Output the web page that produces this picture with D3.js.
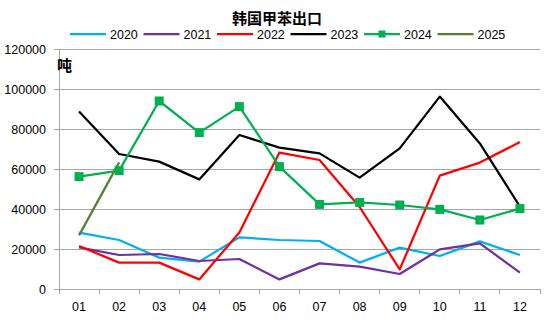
<!DOCTYPE html>
<html>
<head>
<meta charset="utf-8">
<script src="https://cdn.jsdelivr.net/npm/d3@7/dist/d3.min.js"></script>
<style>
  html, body { margin: 0; padding: 0; background: #fff; }
  svg { display: block; }
</style>
</head>
<body>
<svg id="chart" width="550" height="322"></svg>
<script>
// Months on the category axis
const months = ["01","02","03","04","05","06","07","08","09","10","11","12"];

// Monthly export volumes (tonnes) per year
const y2020 = [28200, 24500, 15700, 13700, 25800, 24500, 24000, 13200, 20700, 16500, 23800, 17000];
const y2021 = [20800, 17000, 17500, 14000, 15000, 4800, 12800, 11200, 7500, 19800, 22800, 8200];
const y2022 = [21500, 13200, 13200, 4800, 28300, 68200, 64500, 41000, 9800, 56700, 63200, 73500];
const y2023 = [88800, 67500, 63700, 54800, 77000, 70700, 67800, 55700, 70300, 96200, 72800, 41200];
const y2024 = [56200, 59200, 94000, 78200, 91200, 61200, 42300, 43300, 42000, 39800, 34500, 40200];
const y2025 = [26800, 63300];

const yTicks = [0, 20000, 40000, 60000, 80000, 100000, 120000];

const seriesNames = ["2020", "2021", "2022", "2023", "2024", "2025"];
const seriesValues = [y2020, y2021, y2022, y2023, y2024, y2025];
const seriesColors = ["#00b0f0", "#7030a0", "#ff0000", "#000000", "#00b050", "#548235"];

const svg = d3.select("#chart");
const margin = { left: 59, right: 10, top: 49, bottom: 33 };
const W = 550, H = 322;

const x = d3.scaleBand().domain(months).range([margin.left, W - margin.right]);
const y = d3.scaleLinear().domain([0, 120000]).range([H - margin.bottom, margin.top]);

const font = "'Liberation Sans', Arial, sans-serif";

// Horizontal gridlines
svg.append("g")
  .selectAll("line")
  .data(yTicks.filter(d => d > 0))
  .join("line")
  .attr("x1", margin.left).attr("x2", W - margin.right)
  .attr("y1", d => y(d)).attr("y2", d => y(d))
  .attr("stroke", "#a6a6a6").attr("stroke-width", 1)
  .attr("shape-rendering", "crispEdges");

// Y axis
const yAxis = svg.append("g")
  .attr("transform", `translate(${margin.left},0)`)
  .call(d3.axisLeft(y).tickValues(yTicks).tickSize(5).tickPadding(8).tickFormat(d3.format("d")));
yAxis.selectAll("line, path").attr("stroke", "#a6a6a6").attr("shape-rendering", "crispEdges");
yAxis.selectAll("text").attr("font-family", font).attr("font-size", 12.5).attr("fill", "#000");

// X axis with ticks between categories
const xAxisG = svg.append("g")
  .attr("transform", `translate(0,${y(0)})`);
xAxisG.append("line")
  .attr("x1", margin.left).attr("x2", W - margin.right)
  .attr("y1", 0).attr("y2", 0)
  .attr("stroke", "#a6a6a6").attr("shape-rendering", "crispEdges");
const boundaries = months.map(m => x(m)).concat([x(months[months.length - 1]) + x.bandwidth()]);
xAxisG.selectAll("line.tick")
  .data(boundaries)
  .join("line")
  .attr("class", "tick")
  .attr("x1", d => d).attr("x2", d => d)
  .attr("y1", 0).attr("y2", 5)
  .attr("stroke", "#a6a6a6").attr("shape-rendering", "crispEdges");
xAxisG.selectAll("text")
  .data(months)
  .join("text")
  .attr("x", d => x(d) + x.bandwidth() / 2)
  .attr("y", 22)
  .attr("text-anchor", "middle")
  .attr("font-family", font).attr("font-size", 12.5)
  .text(d => d);

// Series lines
const line = d3.line()
  .x((d, i) => x(months[i]) + x.bandwidth() / 2)
  .y(d => y(d));

seriesValues.forEach((vals, k) => {
  svg.append("path")
    .datum(vals)
    .attr("fill", "none")
    .attr("stroke", seriesColors[k])
    .attr("stroke-width", 2.25)
    .attr("stroke-linejoin", "round")
    .attr("d", line);
});

// Square markers on the 2024 series
const mk = 9;
svg.append("g")
  .selectAll("rect")
  .data(y2024)
  .join("rect")
  .attr("x", (d, i) => x(months[i]) + x.bandwidth() / 2 - mk / 2)
  .attr("y", d => y(d) - mk / 2)
  .attr("width", mk).attr("height", mk)
  .attr("fill", seriesColors[4]);

// Title
svg.append("text")
  .attr("x", 277).attr("y", 24)
  .attr("text-anchor", "middle")
  .attr("font-family", "'Noto Sans CJK SC', sans-serif")
  .attr("font-weight", "bold")
  .attr("font-size", 15)
  .text("韩国甲苯出口");

// Unit label
svg.append("text")
  .attr("x", 57).attr("y", 71)
  .attr("font-family", "'Noto Sans CJK SC', sans-serif")
  .attr("font-weight", "bold")
  .attr("font-size", 15)
  .text("吨");

// Legend
const legend = svg.append("g");
const legStart = 70, legStep = 73.5, legY = 34;
seriesNames.forEach((name, k) => {
  const gx = legStart + k * legStep;
  legend.append("line")
    .attr("x1", gx).attr("x2", gx + 36)
    .attr("y1", legY).attr("y2", legY)
    .attr("stroke", seriesColors[k]).attr("stroke-width", 2.25);
  if (k === 4) {
    legend.append("rect")
      .attr("x", gx + 18 - 3.5).attr("y", legY - 3.5)
      .attr("width", 7).attr("height", 7)
      .attr("fill", seriesColors[k]);
  }
  legend.append("text")
    .attr("x", gx + 40).attr("y", legY + 4.5)
    .attr("font-family", font).attr("font-size", 12.5)
    .text(name);
});
</script>
</body>
</html>
